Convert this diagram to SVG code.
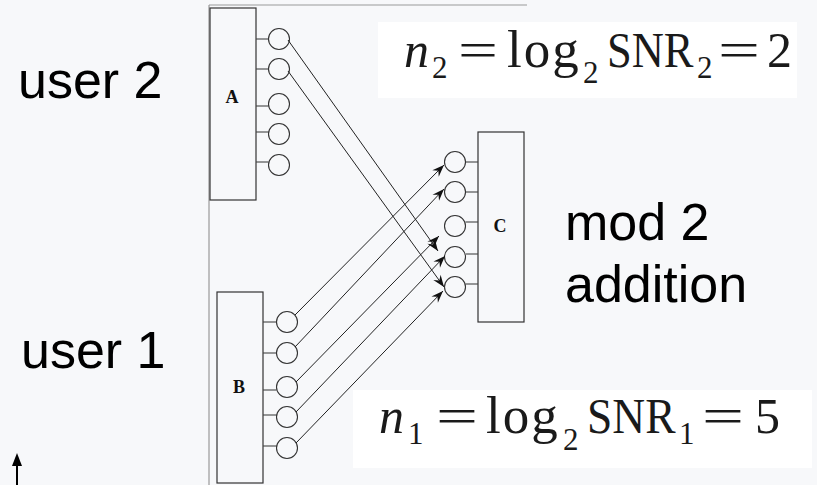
<svg xmlns="http://www.w3.org/2000/svg" width="817" height="485" viewBox="0 0 817 485">
<style>
.box{fill:none;stroke:#333;stroke-width:1.2}
.port{fill:none;stroke:#333;stroke-width:1.1}
.stub{stroke:#444;stroke-width:1.1}
.conn{stroke:#222;stroke-width:1;fill:none}
.blabel{font-family:"Liberation Serif",serif;font-weight:bold;font-size:18px;fill:#111;text-anchor:middle}
.big{font-family:"Liberation Sans",Arial,sans-serif;font-size:52px;fill:#000}
.fm{font-family:"Liberation Serif",serif;font-size:50px;fill:#1a1a1a}
.fs{font-family:"Liberation Serif",serif;font-size:31px;fill:#1a1a1a}
.lg{font-family:"Liberation Serif",serif;font-size:53px;fill:#1a1a1a;letter-spacing:2px}
.frame{stroke:#999;stroke-width:1.2}
</style>
<defs>
<marker id="ah" viewBox="-13 -5 14 10" refX="0" refY="0" markerWidth="14" markerHeight="10" markerUnits="userSpaceOnUse" orient="auto">
<path d="M0,0 L-12,-4.5 L-8,0 L-12,4.5 z" fill="#111"/>
</marker>
</defs>
<rect x="0" y="0" width="817" height="485" fill="#f7f8fa"/>
<line class="frame" x1="209" y1="5" x2="209" y2="485"/>
<line class="frame" x1="209" y1="5" x2="527" y2="5"/>

<g id="formula2">
<rect x="378" y="22" width="419" height="76" fill="#ffffff"/>
<text class="fm" x="404" y="67" font-style="italic">n</text>
<text class="fs" x="432" y="78">2</text>
<text class="fm" x="458" y="67" textLength="40" lengthAdjust="spacingAndGlyphs">=</text>
<text class="lg" x="507" y="67">log</text>
<text class="fs" x="583" y="83">2</text>
<text class="fm" transform="translate(607,67) scale(0.89,1)" x="0" y="0">SNR</text>
<text class="fs" x="697" y="78">2</text>
<text class="fm" x="718" y="67" textLength="42" lengthAdjust="spacingAndGlyphs">=</text>
<text class="fm" x="767" y="67">2</text>
</g>

<g id="formula1">
<rect x="353" y="390" width="459" height="78" fill="#ffffff"/>
<text class="fm" x="379" y="433" font-style="italic">n</text>
<text class="fs" x="408" y="444">1</text>
<text class="fm" x="436" y="433" textLength="42" lengthAdjust="spacingAndGlyphs">=</text>
<text class="lg" x="486" y="433">log</text>
<text class="fs" x="563" y="450">2</text>
<text class="fm" transform="translate(587,433) scale(0.91,1)" x="0" y="0">SNR</text>
<text class="fs" x="679" y="444">1</text>
<text class="fm" x="702" y="433" textLength="42" lengthAdjust="spacingAndGlyphs">=</text>
<text class="fm" x="755" y="433">5</text>
</g>

<text class="big" x="18" y="98">user 2</text>
<text class="big" x="21" y="368">user 1</text>
<text class="big" x="565" y="240">mod 2</text>
<text class="big" x="565" y="302">addition</text>

<g id="nodeA">
<rect class="box" x="210" y="8" width="46" height="192"/>
<text class="blabel" x="232" y="103">A</text>
<line class="stub" x1="256" y1="39" x2="268.5" y2="39"/>
<line class="stub" x1="256" y1="69" x2="268.5" y2="69"/>
<line class="stub" x1="256" y1="106" x2="268.5" y2="106"/>
<line class="stub" x1="256" y1="132" x2="268.5" y2="132"/>
<line class="stub" x1="256" y1="162" x2="268.5" y2="162"/>
<circle class="port" cx="279" cy="39" r="10.5"/>
<circle class="port" cx="279" cy="69" r="10.5"/>
<circle class="port" cx="279" cy="104" r="10.5"/>
<circle class="port" cx="279" cy="134" r="10.5"/>
<circle class="port" cx="279" cy="165" r="10.5"/>
</g>

<g id="nodeB">
<rect class="box" x="217" y="292" width="46" height="191"/>
<text class="blabel" x="239" y="393">B</text>
<line class="stub" x1="263" y1="322" x2="276.5" y2="322"/>
<line class="stub" x1="263" y1="353" x2="276.5" y2="353"/>
<line class="stub" x1="263" y1="390" x2="276.5" y2="390"/>
<line class="stub" x1="263" y1="415" x2="276.5" y2="415"/>
<line class="stub" x1="263" y1="446" x2="276.5" y2="446"/>
<circle class="port" cx="287" cy="322" r="10.5"/>
<circle class="port" cx="287" cy="353" r="10.5"/>
<circle class="port" cx="287" cy="387" r="10.5"/>
<circle class="port" cx="287" cy="417" r="10.5"/>
<circle class="port" cx="287" cy="448" r="10.5"/>
</g>

<g id="nodeC">
<rect class="box" x="478" y="132" width="46" height="190"/>
<text class="blabel" x="500" y="232">C</text>
<line class="stub" x1="465.5" y1="162" x2="478" y2="162"/>
<line class="stub" x1="465.5" y1="192" x2="478" y2="192"/>
<line class="stub" x1="465.5" y1="222" x2="478" y2="222"/>
<line class="stub" x1="465.5" y1="254" x2="478" y2="254"/>
<line class="stub" x1="465.5" y1="284" x2="478" y2="284"/>
<circle class="port" cx="455" cy="162" r="10.5"/>
<circle class="port" cx="455" cy="192" r="10.5"/>
<circle class="port" cx="455" cy="226" r="10.5"/>
<circle class="port" cx="455" cy="257" r="10.5"/>
<circle class="port" cx="455" cy="287" r="10.5"/>
</g>

<g id="connectors">
<line class="conn" x1="288" y1="40" x2="438" y2="251" marker-end="url(#ah)"/>
<line class="conn" x1="288" y1="71" x2="444" y2="287" marker-end="url(#ah)"/>
<line class="conn" x1="295" y1="315" x2="444" y2="165" marker-end="url(#ah)"/>
<line class="conn" x1="295" y1="347" x2="444" y2="189" marker-end="url(#ah)"/>
<line class="conn" x1="296" y1="382" x2="439" y2="236" marker-end="url(#ah)"/>
<line class="conn" x1="296" y1="412" x2="445" y2="256" marker-end="url(#ah)"/>
<line class="conn" x1="296" y1="443" x2="443" y2="291" marker-end="url(#ah)"/>
</g>

<g id="cornerArrow">
<line x1="17" y1="485" x2="17" y2="463" stroke="#000" stroke-width="2"/>
<path d="M17,453 L22,466 L12,466 z" fill="#000"/>
</g>
</svg>
